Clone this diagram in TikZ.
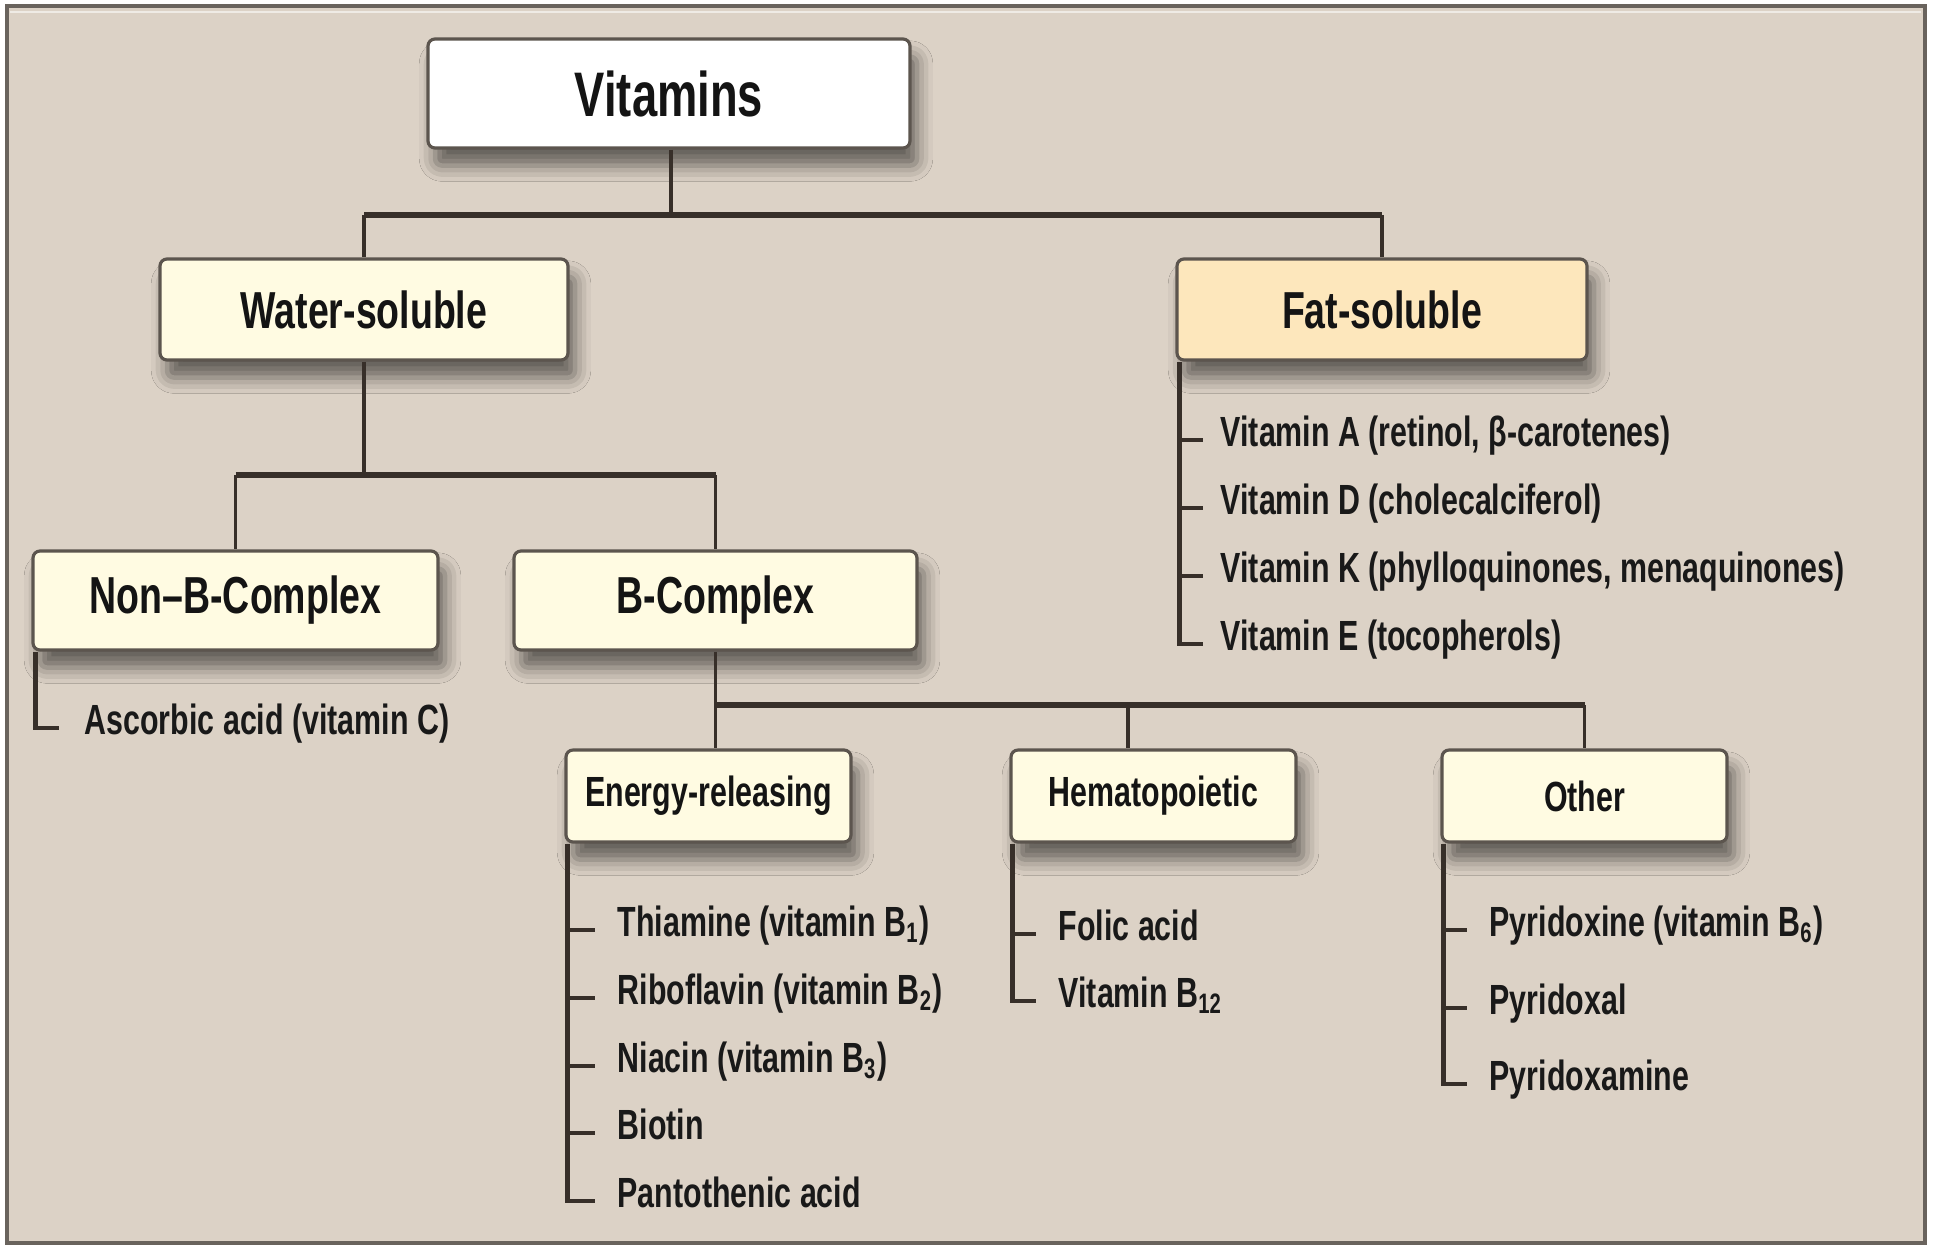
\documentclass[tikz,border=0pt]{standalone}
\usepackage{fontspec}
\setmainfont{Liberation Sans}[FakeStretch=0.72]
\usetikzlibrary{calc,shadows.blur}
\definecolor{bg}{RGB}{220,210,198}
\definecolor{frm}{RGB}{105,99,93}
\definecolor{bord}{RGB}{92,85,78}
\definecolor{ln}{RGB}{55,47,41}
\definecolor{cream}{RGB}{255,251,226}
\definecolor{peach}{RGB}{253,231,188}
\begin{document}
\begin{tikzpicture}[x=0.01cm,y=-0.01cm,
  boxbase/.style={draw=bord, line width=0.9pt, rounded corners=0.07cm, fill=cream,
    inner sep=0pt, align=center, text=black!92,
    blur shadow={shadow xshift=2pt, shadow yshift=-5pt, shadow blur radius=4.5pt, shadow opacity=55}},
  bsize/.style 2 args={minimum width=#1*0.01cm, minimum height=#2*0.01cm},
  fbig/.style={font=\fontsize{17.9}{20}\selectfont\bfseries},
  fmid/.style={font=\fontsize{14.8}{17}\selectfont\bfseries},
  fsmall/.style={font=\fontsize{12}{14}\selectfont\bfseries},
  item/.style={anchor=base west, inner sep=0pt, text=black!90, font=\fontsize{12}{14}\selectfont\bfseries},
  conn/.style={draw=ln, line width=1.1pt},
  hconn/.style={draw=ln, line width=1.5pt},
  lst/.style={draw=ln, line width=1.2pt}
]
\useasboundingbox (0,0) rectangle (1933,1245);
\fill[white] (0,0) rectangle (1933,1245);
\draw[frm, line width=1pt, fill=bg] (7,6) rectangle (1925,1243);
\draw[white!55!bg, line width=0.8pt] (10,12) -- (1921,12);

% boxes
\node[boxbase, fill=white, bsize={482}{109}, fbig] (vit) at (669,93.5) {Vitamins};
\node[boxbase, bsize={408}{101}, fmid] (ws) at (364,309.5) {Water-soluble};
\node[boxbase, fill=peach, bsize={410}{101}, fmid] (fs) at (1382,309.5) {Fat-soluble};
\node[boxbase, bsize={405}{99}, fmid] (nb) at (235.5,600.5) {Non–B-Complex};
\node[boxbase, bsize={403}{99}, fmid] (bc) at (715.5,600.5) {B-Complex};
\node[boxbase, bsize={285}{92}, fsmall] (er) at (708.5,796) {Energy-releasing};
\node[boxbase, bsize={285}{92}, fsmall] (hp) at (1153.5,796) {Hematopoietic};
\node[boxbase, bsize={285}{92}, fsmall] (ot) at (1584.5,796) {Other};

% junction coordinates
\coordinate (j1) at (671,215);
\coordinate (j2) at (364,475);
\coordinate (j3) at (715.5,705);
\coordinate (hpin) at ($(hp.north west)!0.41!(hp.north east)$);

% tree connectors
\draw[conn] (vit.south -| j1) -- (j1);
\draw[hconn] (ws.north |- j1) -- (fs.north |- j1);
\draw[conn] (ws.north |- j1) -- (ws.north);
\draw[conn] (fs.north |- j1) -- (fs.north);

\draw[conn] (ws.south) -- (ws.south |- j2);
\draw[hconn] (nb.north |- j2) -- (bc.north |- j2);
\draw[conn] (nb.north |- j2) -- (nb.north);
\draw[conn] (bc.north |- j2) -- (bc.north);

\draw[conn] (bc.south) -- (bc.south |- j3);
\draw[hconn] (bc.south |- j3) -- (ot.north |- j3);
\draw[conn] (bc.south |- j3) -- (er.north -| bc.south);
\draw[conn] (hpin |- j3) -- (hpin);
\draw[conn] (ot.north |- j3) -- (ot.north);

% item texts
\node[item] (fA) at (1220,446) {Vitamin A (retinol, β-carotenes)};
\node[item] (fD) at (1220,514) {Vitamin D (cholecalciferol)};
\node[item] (fK) at (1220,582) {Vitamin K (phylloquinones, menaquinones)};
\node[item] (fE) at (1220,650) {Vitamin E (tocopherols)};

\node[item] (nC) at (84,734) {Ascorbic acid (vitamin C)};

\node[item] (e1) at (617,936) {Thiamine (vitamin B\textsubscript{1})};
\node[item] (e2) at (617,1004) {Riboflavin (vitamin B\textsubscript{2})};
\node[item] (e3) at (617,1072) {Niacin (vitamin B\textsubscript{3})};
\node[item] (e4) at (617,1139) {Biotin};
\node[item] (e5) at (617,1207) {Pantothenic acid};

\node[item] (h1) at (1058,940) {Folic acid};
\node[item] (h2) at (1058,1007) {Vitamin B\textsubscript{12}};

\node[item] (o1) at (1489,936) {Pyridoxine (vitamin B\textsubscript{6})};
\node[item] (o2) at (1489,1014) {Pyridoxal};
\node[item] (o3) at (1489,1090) {Pyridoxamine};

% list trunks
\coordinate (fT) at ($(fs.south west)+(4,0)$);
\coordinate (nT) at ($(nb.south west)+(4,0)$);
\coordinate (eT) at ($(er.south west)+(3,0)$);
\coordinate (hT) at ($(hp.south west)+(3,0)$);
\coordinate (oT) at ($(ot.south west)+(3,0)$);

\draw[lst] (fT) |- ($(fT |- fE.base)+(24,-6)$);
\foreach \n in {fA,fD,fK} \draw[lst] ($(fT |- \n.base)+(0,-6)$) -- ++(24,0);

\draw[lst] (nT) |- ($(nT |- nC.base)+(24,-6)$);

\draw[lst] (eT) |- ($(eT |- e5.base)+(28,-6)$);
\foreach \n in {e1,e2,e3,e4} \draw[lst] ($(eT |- \n.base)+(0,-6)$) -- ++(28,0);

\draw[lst] (hT) |- ($(hT |- h2.base)+(24,-6)$);
\draw[lst] ($(hT |- h1.base)+(0,-6)$) -- ++(24,0);

\draw[lst] (oT) |- ($(oT |- o3.base)+(24,-6)$);
\foreach \n in {o1,o2} \draw[lst] ($(oT |- \n.base)+(0,-6)$) -- ++(24,0);
\end{tikzpicture}
\end{document}
